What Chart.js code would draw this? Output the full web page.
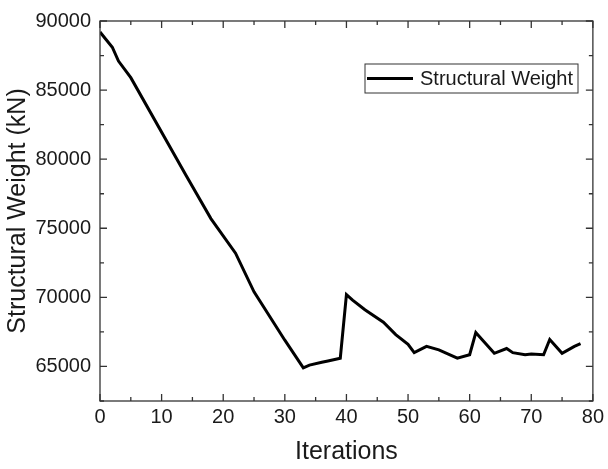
<!DOCTYPE html>
<html>
<head>
<meta charset="utf-8">
<script src="https://cdn.jsdelivr.net/npm/chart.js@4"></script>
<style>
    html, body { margin: 0; padding: 0; background: #fff; }
    #box { width: 608px; height: 469px; }
</style>
</head>
<body>
<div id="box"><canvas id="chartPeso"></canvas></div>
<script>
// dados
const iteracoes = [0, 2, 3, 5, 14, 18, 22, 25, 30, 33, 34, 36, 37, 39, 40, 41, 43, 46, 48, 50, 51, 53, 55, 58, 60, 61, 62, 64, 66, 67, 69, 70, 72, 73, 75, 77, 78];
const pesos = [89200, 88100, 87100, 85900, 78800, 75700, 73200, 70400, 66900, 64900, 65100, 65300, 65400, 65600, 70200, 69800, 69100, 68200, 67300, 66600, 66000, 66450, 66200, 65600, 65850, 67450, 66950, 65950, 66300, 66000, 65850, 65900, 65850, 66950, 65950, 66450, 66650];
const nomeSerie = 'Structural Weight';
const xTicks = [0, 10, 20, 30, 40, 50, 60, 70, 80];
const yTicks = [65000, 70000, 75000, 80000, 85000, 90000];

const corTexto = '#1a1a1a';
const fonte = 'Liberation Sans, Arial, sans-serif';

// moldura, ticks para dentro e legenda
const molduraPlugin = {
    id: 'moldura',
    afterDraw(chart) {
        const ctx = chart.ctx;
        const area = chart.chartArea;
        const sx = chart.scales.x;
        const sy = chart.scales.y;
        ctx.save();
        ctx.strokeStyle = '#333';
        ctx.lineWidth = 1.3;
        ctx.strokeRect(area.left, area.top, area.right - area.left, area.bottom - area.top);

        ctx.beginPath();
        for (let v = sx.min; v <= sx.max; v += 5) {
            const px = sx.getPixelForValue(v);
            const len = (v % 10 === 0) ? 7 : 4;
            ctx.moveTo(px, area.bottom); ctx.lineTo(px, area.bottom - len);
            ctx.moveTo(px, area.top); ctx.lineTo(px, area.top + len);
        }
        for (let v = 62500; v <= sy.max; v += 2500) {
            const py = sy.getPixelForValue(v);
            const len = (v % 5000 === 0) ? 7 : 4;
            ctx.moveTo(area.left, py); ctx.lineTo(area.left + len, py);
            ctx.moveTo(area.right, py); ctx.lineTo(area.right - len, py);
        }
        ctx.stroke();

        // legenda
        const lx = 365, ly = 64, lw = 213, lh = 29;
        ctx.fillStyle = '#fff';
        ctx.fillRect(lx, ly, lw, lh);
        ctx.strokeStyle = '#333';
        ctx.lineWidth = 1;
        ctx.strokeRect(lx, ly, lw, lh);
        ctx.strokeStyle = '#000';
        ctx.lineWidth = 3;
        ctx.beginPath();
        ctx.moveTo(lx + 2, ly + lh / 2);
        ctx.lineTo(lx + 48, ly + lh / 2);
        ctx.stroke();
        ctx.fillStyle = corTexto;
        ctx.font = '20px ' + fonte;
        ctx.textBaseline = 'middle';
        ctx.fillText(nomeSerie, lx + 55, ly + lh / 2 + 1);
        ctx.restore();
    }
};

const ctxPeso = document.getElementById('chartPeso').getContext('2d');
const chartPeso = new Chart(ctxPeso, {
    type: 'line',
    data: {
        datasets: [{
            label: nomeSerie,
            data: iteracoes.map((it, i) => ({ x: it, y: pesos[i] })),
            borderColor: '#000',
            borderWidth: 3,
            pointRadius: 0,
            fill: false,
            tension: 0
        }]
    },
    options: {
        responsive: true,
        maintainAspectRatio: false,
        animation: false,
        layout: {
            padding: { top: 12, right: 10, left: 3, bottom: 2 }
        },
        scales: {
            x: {
                type: 'linear',
                min: 0,
                max: 80,
                afterBuildTicks: (scale) => { scale.ticks = xTicks.map(v => ({ value: v })); },
                grid: { display: false, drawTicks: false },
                border: { display: false },
                ticks: {
                    color: corTexto,
                    font: { family: fonte, size: 20 },
                    padding: 4,
                    maxRotation: 0,
                    callback: (v) => String(v)
                },
                title: {
                    display: true,
                    text: 'Iterations',
                    color: corTexto,
                    font: { family: fonte, size: 25 },
                    padding: { top: 4, bottom: 0 }
                }
            },
            y: {
                min: 62500,
                max: 90000,
                afterBuildTicks: (scale) => { scale.ticks = yTicks.map(v => ({ value: v })); },
                afterFit: (scale) => { scale.width = 97; },
                grid: { display: false, drawTicks: false },
                border: { display: false },
                ticks: {
                    color: corTexto,
                    font: { family: fonte, size: 20 },
                    padding: 9,
                    callback: (v) => String(v)
                },
                title: {
                    display: true,
                    text: 'Structural Weight (kN)',
                    color: corTexto,
                    font: { family: fonte, size: 25 },
                    padding: { top: 0, bottom: 1 }
                }
            }
        },
        plugins: {
            legend: { display: false },
            tooltip: { enabled: false }
        }
    },
    plugins: [molduraPlugin]
});
</script>
</body>
</html>
